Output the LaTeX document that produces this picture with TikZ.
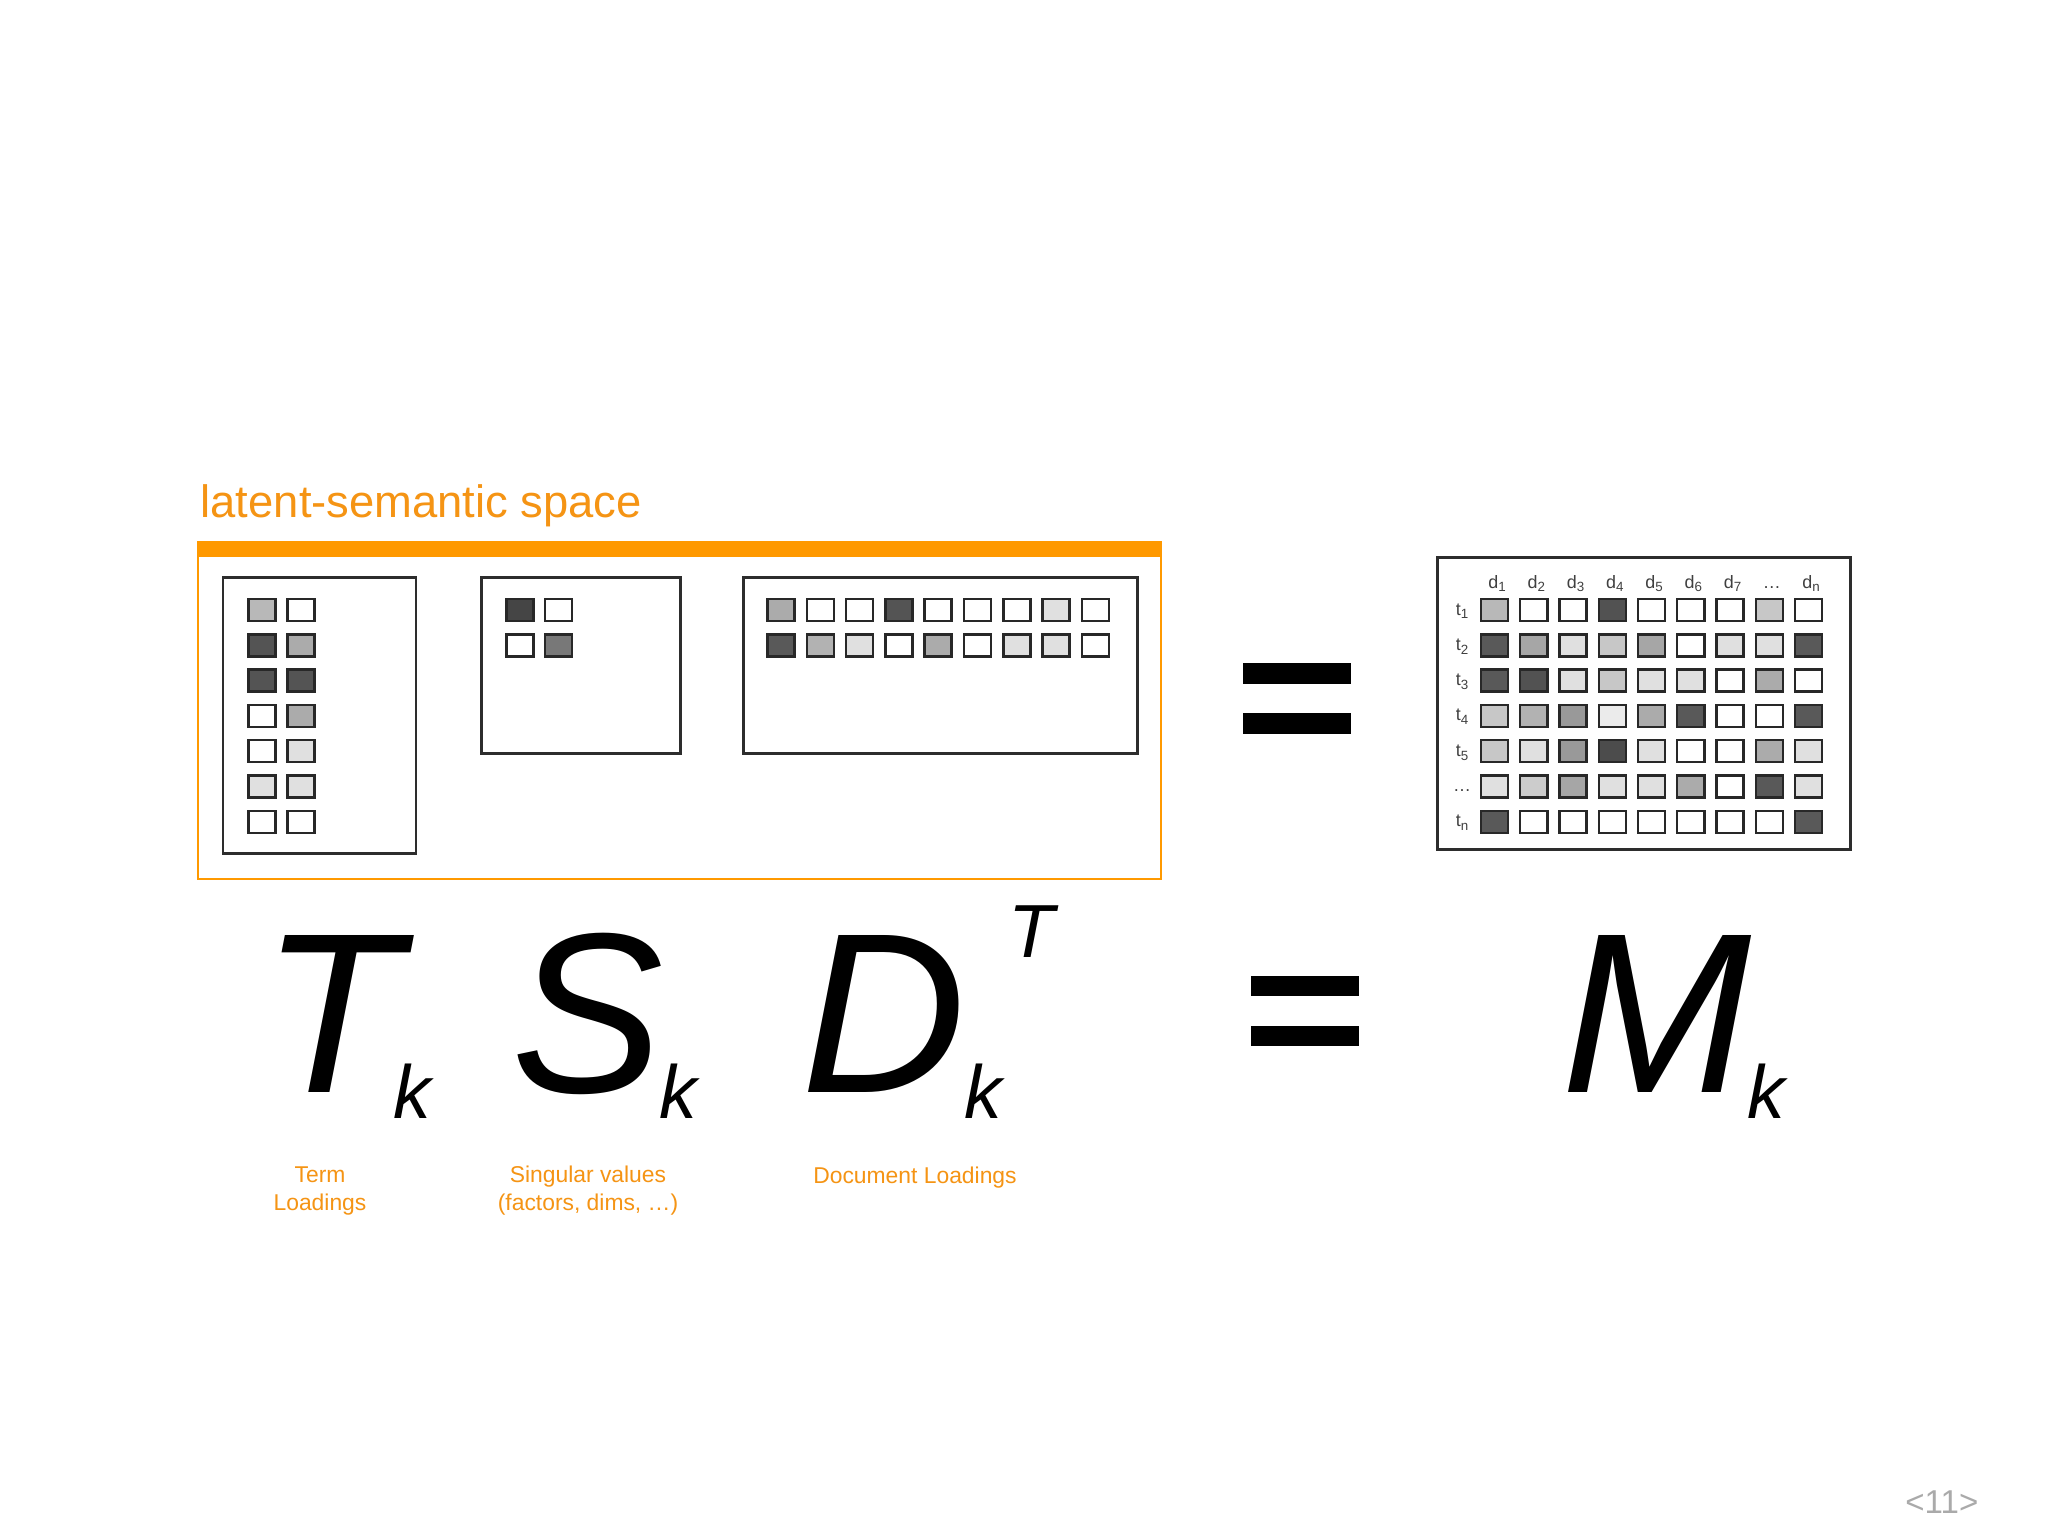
\documentclass[tikz,border=0pt]{standalone}
\usepackage{fontspec}
\setmainfont{Liberation Sans}
\definecolor{lsorange}{RGB}{255,153,0}
\definecolor{lstext}{RGB}{245,148,20}
\definecolor{pgnum}{RGB}{170,170,170}
\definecolor{cellborder}{RGB}{40,40,40}
\definecolor{boxborder}{RGB}{45,45,45}
\newcommand{\mysub}[1]{\raisebox{-0.4ex}{\fontsize{3.8}{4}\selectfont #1}}
\begin{document}
\begin{tikzpicture}[x=0.01cm,y=-0.01cm,
  cell/.style={draw=cellborder, line width=0.7pt, minimum width=0.27cm, minimum height=0.22cm, inner sep=0pt},
  mbox/.style={draw=boxborder, line width=0.85pt},
  bigl/.style={font=\fontsize{64.9}{70}\selectfont\itshape, inner sep=0pt, anchor=base},
  subk/.style={font=\fontsize{21.4}{24}\selectfont\itshape, inner sep=0pt, anchor=base},
  lbl/.style={font=\fontsize{6.5}{7.7}\selectfont, text=lstext, align=center, inner sep=0pt, anchor=base},
  hdr/.style={font=\fontsize{5.1}{5.5}\selectfont, text=black!75, inner sep=0pt, anchor=base},
  eqbar/.style={fill=black}]
\fill[white] (0,0) rectangle (2048,1536);
\useasboundingbox (0,0) rectangle (2048,1536);

% title
\node[anchor=base west, inner sep=0pt, font=\fontsize{12.9}{14}\selectfont, text=lstext] (title) at (200,517) {latent-semantic space};

% orange frame
\draw[lsorange, line width=0.6pt] (198,549) rectangle (1161,879);
\fill[lsorange] (197,541) rectangle (1162,557);

% T box
\draw[mbox] (223,577) rectangle (416,853);
\foreach \row [count=\j from 0] in {{28,0},{67,33},{67,67},{0,33},{0,12},{12,12},{0,0}} {
  \foreach \v [count=\i from 0] in \row {
    \node[cell, fill=black!\v] (t-\j-\i) at ({262+39*\i},{610+35.3*\j}) {};
  }
}

% S box
\draw[mbox] (481,577) rectangle (680,753);
\foreach \row [count=\j from 0] in {{73,0},{0,53}} {
  \foreach \v [count=\i from 0] in \row {
    \node[cell, fill=black!\v] (s-\j-\i) at ({520+38.5*\i},{610+35.3*\j}) {};
  }
}

% D box
\draw[mbox] (743,577) rectangle (1137,753);
\foreach \row [count=\j from 0] in {{33,0,0,67,0,0,0,12,0},{65,30,12,0,33,0,12,12,0}} {
  \foreach \v [count=\i from 0] in \row {
    \node[cell, fill=black!\v] (dd-\j-\i) at ({781+39.3*\i},{610+35.3*\j}) {};
  }
}

% top equals
\fill[eqbar] (1243,663) rectangle (1351,684);
\fill[eqbar] (1243,713) rectangle (1351,734);

% M box
\draw[mbox] (1437,557) rectangle (1850,849);
\foreach \row [count=\j from 0] in {
  {28,0,0,68,0,0,0,22,0},
  {65,35,12,22,35,0,12,12,65},
  {65,68,12,22,12,12,0,33,0},
  {22,30,40,8,33,65,0,0,65},
  {22,12,40,70,12,0,0,33,12},
  {12,20,35,12,12,33,0,65,12},
  {65,0,0,0,0,0,0,0,65}} {
  \foreach \v [count=\i from 0] in \row {
    \node[cell, fill=black!\v] (m-\j-\i) at ({1494.5+39.25*\i},{610+35.3*\j}) {};
  }
}
\foreach \lab [count=\i from 0] in {d\mysub{1},d\mysub{2},d\mysub{3},d\mysub{4},d\mysub{5},d\mysub{6},d\mysub{7},…,d\mysub{n}} {
  \node[hdr] (dh-\i) at ({1497+39.25*\i},588) {\lab};
}
\foreach \lab [count=\j from 0] in {t\mysub{1},t\mysub{2},t\mysub{3},t\mysub{4},t\mysub{5},…,t\mysub{n}} {
  \node[hdr] (tl-\j) at (1462,{615+35.3*\j}) {\lab};
}

% formula
\node[bigl] (T) at (331,1092) {T};
\node[subk] (kT) at (412,1118) {k};
\node[bigl] (S) at (588,1092) {S};
\node[subk] (kS) at (678,1118) {k};
\node[bigl] (D) at (884,1092) {D};
\node[subk] (kD) at (983,1118) {k};
\node[subk] (supT) at (1031,957) {T};
\fill[eqbar] (1251,976) rectangle (1359,996);
\fill[eqbar] (1251,1026) rectangle (1359,1046);
\node[bigl] (M) at (1657,1092) {M};
\node[subk] (kM) at (1766,1118) {k};

% labels
\node[lbl] (lT) at (320,1210) {Term\\Loadings};
\node[lbl] (lS) at (588,1210) {Singular values\\(factors, dims, …)};
\node[lbl] (lD) at (915,1183) {Document Loadings};

% page number
\node[anchor=base east, inner sep=0pt, font=\fontsize{9.4}{10}\selectfont, text=pgnum] (pg) at (1979,1513) {<11>};
\end{tikzpicture}
\end{document}
